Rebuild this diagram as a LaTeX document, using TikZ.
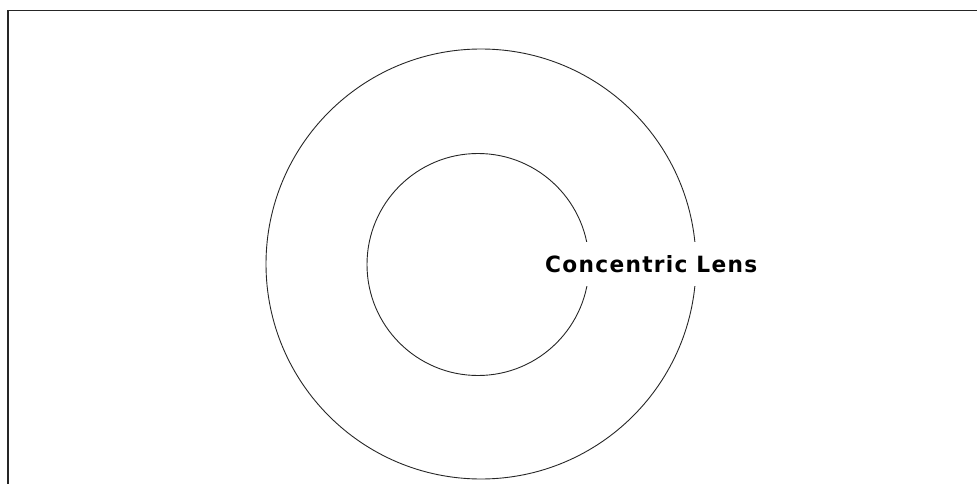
\documentclass[tikz,border=0pt]{standalone}
\usepackage{fontspec}
\setmainfont{DejaVu Sans}
\begin{document}
\begin{tikzpicture}[x=1pt,y=-1pt,
  lens/.style={draw=black!85,line width=0.9pt},
  frameline/.style={draw=black!85,line width=1.6pt},
  lbl/.style={font=\bfseries\fontsize{17}{17}\selectfont,fill=white,inner xsep=3pt,inner ysep=13pt}]
\useasboundingbox (0,0) rectangle (977,484);
\coordinate (tl) at (8,10.5);
\coordinate (tr) at (977,10.5);
\coordinate (bl) at (8,484);
\draw[frameline] (tr) -- (tl) -- (bl);
\node[lens,circle,minimum size=430pt,inner sep=0pt] (outer) at (481,264) {};
\node[lens,circle,minimum size=222pt,inner sep=0pt] (inner) at (478,264.5) {};
\node[lbl,anchor=west] (label) at (542,264) {\resizebox{212pt}{17pt}{\addfontfeature{LetterSpace=6}Concentric Lens}};
\end{tikzpicture}
\end{document}
